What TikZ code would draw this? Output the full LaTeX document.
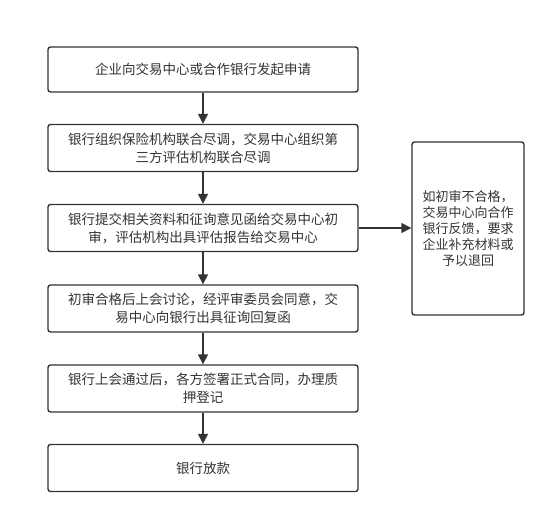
\documentclass[tikz,border=0pt]{standalone}
\usepackage{fontspec}
\setmainfont{Noto Sans CJK SC}
\usepackage{xcolor}
\usetikzlibrary{arrows.meta, positioning}
\definecolor{traitgris}{HTML}{333333}

\begin{document}
\begin{tikzpicture}[>={Triangle[length=10pt, width=10pt]}, x=1pt, y=-1pt,
  every node/.style={font=\fontsize{13.5}{18}\selectfont, text=traitgris},
  etape/.style={draw=traitgris, line width=1.4pt, rounded corners=2.5pt,
    minimum width=310pt, minimum height=47pt, align=center, inner sep=0pt},
  fleche/.style={->, draw=traitgris, line width=1.4pt}]

  \useasboundingbox (0,0) rectangle (556,524);

  % Etapes
  \node[etape, minimum height=45pt] (demande) at (203,69.5) {企业向交易中心或合作银行发起申请};
  \node[etape] (diligence) at (203,148) {银行组织保险机构联合尽调，交易中心组织第\\三方评估机构联合尽调};
  \node[etape] (examen) at (203,228) {银行提交相关资料和征询意见函给交易中心初\\审，评估机构出具评估报告给交易中心};
  \node[etape] (comite) at (203,308.5) {初审合格后上会讨论，经评审委员会同意，交\\易中心向银行出具征询回复函};
  \node[etape] (contrat) at (203,388.5) {银行上会通过后，各方签署正式合同，办理质\\押登记};
  \node[etape] (pret) at (203,468) {银行放款};

  % Retour
  \node[etape, minimum width=112pt, minimum height=173pt,
    font=\fontsize{13}{16}\selectfont] (refus) at (468,228.5)
    {如初审不合格，\\交易中心向合作\\银行反馈，要求\\企业补充材料或\\予以退回};

  % Fleches
  \draw[fleche] (demande) -- (diligence);
  \draw[fleche] (diligence) -- (examen);
  \draw[fleche] (examen) -- (comite);
  \draw[fleche] (comite) -- (contrat);
  \draw[fleche] (contrat) -- (pret);
  \draw[fleche] (examen.east) -- (refus.west |- examen.east);

\end{tikzpicture}
\end{document}
